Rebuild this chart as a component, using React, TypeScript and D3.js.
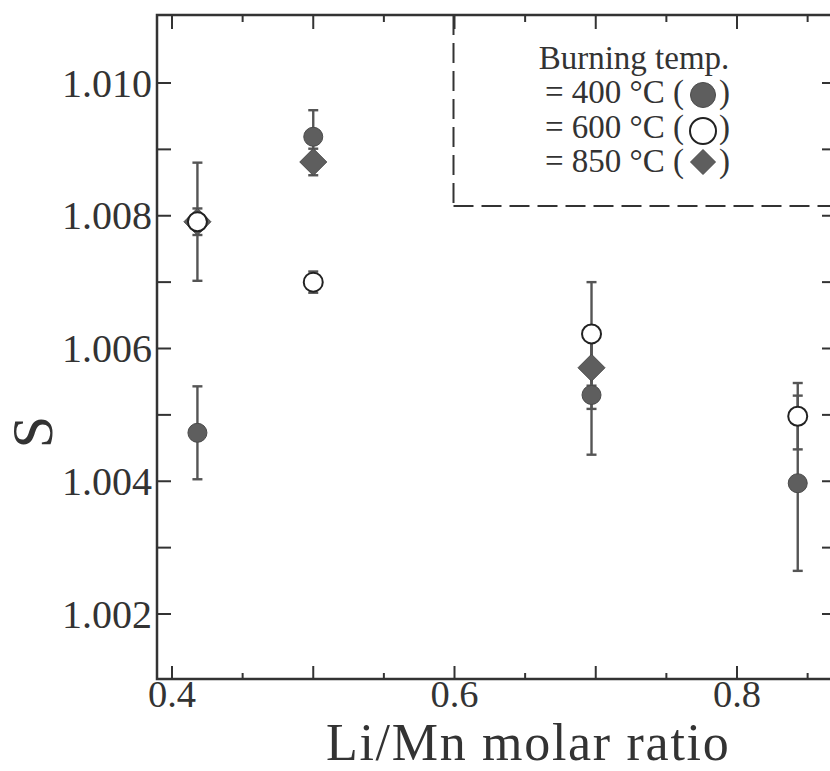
import React from "react";
import * as d3 from "d3";

// ---- data ----
const xRatio400 = [0.418, 0.5, 0.697, 0.843];
const s400 = [1.00473, 1.00919, 1.0053, 1.00397];
const err400 = [0.0007, 0.0004, 0.0009, 0.00132];

const xRatio600 = [0.418, 0.5, 0.697, 0.843];
const s600 = [1.00791, 1.007, 1.00622, 1.00498];
const err600 = [0.00089, 0.00016, 0.00078, 0.0005];

const xRatio850 = [0.418, 0.5, 0.697];
const s850 = [1.00791, 1.00881, 1.00571];
const err850 = [0.0002, 0.0002, 0.00062];

const xTickLabels = [0.4, 0.6, 0.8];
const yTickLabels = [1.002, 1.004, 1.006, 1.008, 1.01];
const legendTitle = "Burning temp.";
const legendLines = ["= 400 °C (", "= 600 °C (", "= 850 °C ("];
const xTitle = "Li/Mn molar ratio";
const yTitle = "S";

const W = 830;
const H = 771;
const left = 157;
const right = 836;
const top = 15;
const bottom = 679;

const x = d3.scaleLinear().domain([0.4, 0.8]).range([172, 737]);
const y = d3.scaleLinear().domain([1.002, 1.01]).range([614, 83]);

const AX = "#333";
const MK = "#5e5e5e";
const EB = "#555";
const TXT = "#333";
const FONT = "'Liberation Serif', 'Times New Roman', serif";

function ErrorBar({ cx, v, e }: { cx: number; v: number; e: number }) {
  const px = x(cx);
  const y1 = y(v + e);
  const y2 = y(v - e);
  return (
    <g stroke={EB} strokeWidth={2.4}>
      <line x1={px} x2={px} y1={y1} y2={y2} />
      <line x1={px - 5} x2={px + 5} y1={y1} y2={y1} />
      <line x1={px - 5} x2={px + 5} y1={y2} y2={y2} />
    </g>
  );
}

function diamondPath(cx: number, cy: number, h: number) {
  const p = d3.path();
  p.moveTo(cx, cy - h);
  p.lineTo(cx + h, cy);
  p.lineTo(cx, cy + h);
  p.lineTo(cx - h, cy);
  p.closePath();
  return p.toString();
}

export default function App() {
  const majorX = d3.range(0.4, 0.86, 0.1).map((d) => +d.toFixed(2));
  const minorX = d3.range(0.45, 0.9, 0.1).map((d) => +d.toFixed(2)).filter((d) => x(d) < W);
  const yTicks = d3.range(1.002, 1.0105, 0.001).map((d) => +d.toFixed(3));

  return (
    <svg
      width={W}
      height={H}
      style={{ position: "absolute", left: 0, top: 0, background: "#fff" }}
      fontFamily={FONT}
    >
      <rect x={0} y={0} width={W} height={H} fill="#fff" />

      {/* legend dashed box */}
      <g stroke="#333" strokeWidth={2} fill="none" strokeDasharray="20 8">
        <line x1={x(0.6) - 1} x2={x(0.6) - 1} y1={top} y2={206} />
        <line x1={x(0.6) - 1} x2={W + 20} y1={206} y2={206} />
      </g>

      {/* frame */}
      <rect
        x={left}
        y={top}
        width={right - left}
        height={bottom - top}
        fill="none"
        stroke={AX}
        strokeWidth={2.5}
      />

      {/* ticks */}
      <g stroke={AX} strokeWidth={2}>
        {majorX.map((d) => (
          <g key={"mx" + d}>
            <line x1={x(d)} x2={x(d)} y1={bottom} y2={bottom - 13} />
            <line x1={x(d)} x2={x(d)} y1={top} y2={top + 14} />
          </g>
        ))}
        {minorX.map((d) => (
          <g key={"nx" + d}>
            <line x1={x(d)} x2={x(d)} y1={bottom} y2={bottom - 6} />
            <line x1={x(d)} x2={x(d)} y1={top} y2={top + 7} />
          </g>
        ))}
        {yTicks.map((d) => (
          <g key={"y" + d}>
            <line x1={left} x2={left + 14} y1={y(d)} y2={y(d)} />
            <line x1={right} x2={right - 14} y1={y(d)} y2={y(d)} />
          </g>
        ))}
      </g>

      {/* tick labels */}
      <g fill={TXT}>
        {xTickLabels.map((d) => (
          <text key={"xl" + d} x={x(d)} y={707} textAnchor="middle" fontSize={38.5}>
            {d3.format(".1f")(d)}
          </text>
        ))}
        {yTickLabels.map((d) => (
          <text key={"yl" + d} x={152} y={y(d) + 13.5} textAnchor="end" fontSize={40}>
            {d3.format(".3f")(d)}
          </text>
        ))}
      </g>

      {/* axis titles */}
      <text x={326} y={759.5} fontSize={52} letterSpacing={1.7} fill={TXT}>
        {xTitle}
      </text>
      <text
        transform={`translate(52,432) rotate(-90)`}
        textAnchor="middle"
        fontSize={58}
        fill={TXT}
      >
        {yTitle}
      </text>

      {/* error bars */}
      {xRatio850.map((d, i) => (
        <ErrorBar key={"e850" + i} cx={d} v={s850[i]} e={err850[i]} />
      ))}
      {xRatio400.map((d, i) => (
        <ErrorBar key={"e400" + i} cx={d} v={s400[i]} e={err400[i]} />
      ))}
      {xRatio600.map((d, i) => (
        <ErrorBar key={"e600" + i} cx={d} v={s600[i]} e={err600[i]} />
      ))}

      {/* markers */}
      {xRatio850.map((d, i) => (
        <path key={"m850" + i} d={diamondPath(x(d), y(s850[i]), 13.5)} fill={MK} stroke="#4a4a4a" strokeWidth={1} />
      ))}
      {xRatio400.map((d, i) => (
        <circle key={"m400" + i} cx={x(d)} cy={y(s400[i])} r={9.5} fill={MK} stroke="#4a4a4a" strokeWidth={1} />
      ))}
      {xRatio600.map((d, i) => (
        <circle key={"m600" + i} cx={x(d)} cy={y(s600[i])} r={9.5} fill="#fff" stroke="#222" strokeWidth={2} />
      ))}

      {/* legend */}
      <g fill={TXT} fontSize={33}>
        <text x={634} y={69} textAnchor="middle">
          {legendTitle}
        </text>
        {legendLines.map((t, i) => (
          <g key={"lg" + i}>
            <text x={545} y={103 + i * 34.5}>{t}</text>
            <text x={719} y={103 + i * 34.5}>)</text>
          </g>
        ))}
      </g>
      <circle cx={703} cy={95} r={12.5} fill={MK} stroke="#4a4a4a" strokeWidth={1} />
      <circle cx={703} cy={131} r={13} fill="#fff" stroke="#222" strokeWidth={2} />
      <path d={diamondPath(703, 162, 12.5)} fill={MK} stroke="#4a4a4a" strokeWidth={1} />
    </svg>
  );
}
